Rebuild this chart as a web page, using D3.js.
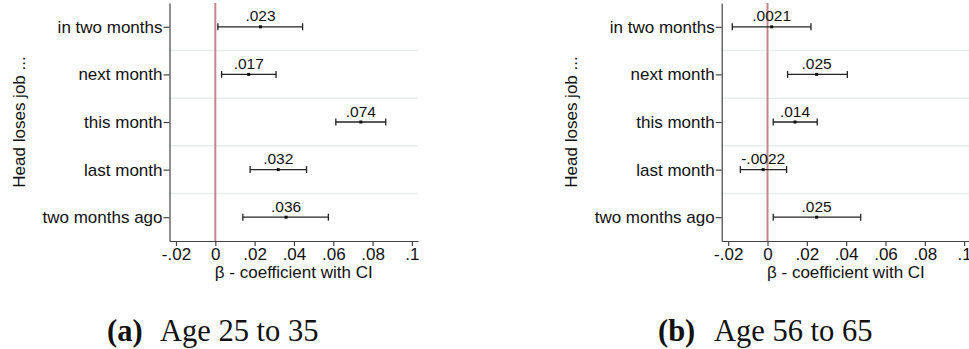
<!DOCTYPE html>
<html>
<head>
<meta charset="utf-8">
<script src="https://cdn.jsdelivr.net/npm/d3@7"></script>
<style>
  body { margin: 0; background: #fff; }
  svg { display: block; }
  .axis text { font-family: "Liberation Sans", Arial, sans-serif; font-size: 17px; fill: #111; }
  .axis path, .axis line { stroke: #444; stroke-width: 1.2; }
  .title { font-family: "Liberation Sans", Arial, sans-serif; font-size: 17px; fill: #111; }
  .val { font-family: "Liberation Sans", Arial, sans-serif; font-size: 15.5px; fill: #111; }
  .caption { font-family: "Liberation Serif", "Times New Roman", serif; font-size: 30.5px; fill: #111; }
</style>
</head>
<body>
<svg id="chart" width="969" height="349"></svg>
<script>
// Categories (top to bottom)
const categories = ["in two months", "next month", "this month", "last month", "two months ago"];
const xTicks = [-0.02, 0, 0.02, 0.04, 0.06, 0.08, 0.1];

// Panel (a): Age 25 to 35
const estA = [0.023, 0.017, 0.074, 0.032, 0.036];
const loA  = [0.0013, 0.0032, 0.0613, 0.0177, 0.0140];
const hiA  = [0.0444, 0.0309, 0.0867, 0.0464, 0.0575];

// Panel (b): Age 56 to 65
const estB = [0.0021, 0.025, 0.014, -0.0022, 0.025];
const loB  = [-0.0179, 0.0102, 0.0029, -0.0138, 0.0029];
const hiB  = [0.0221, 0.0406, 0.0253, 0.0097, 0.0474];

const panels = [
  {left: 169.5, est: estA, lo: loA, hi: hiA, tag: "(a)", label: "Age 25 to 35", capX: 107, capGap: 53},
  {left: 721.7, est: estB, lo: loB, hi: hiB, tag: "(b)", label: "Age 56 to 65", capX: 658, capGap: 56}
];

const plotW = 248.5, plotTop = 3, plotBottom = 241;

// Stata-like number format: drop the leading zero
const fmt = v => d3.format(".2r")(v).replace("−", "-").replace("0.", ".");
const tickFmt = d => d === 0 ? "0" : String(+d.toFixed(2)).replace("0.", ".");

const svg = d3.select("#chart");

panels.forEach(p => {
  const g = svg.append("g");

  const x = d3.scaleLinear()
    .domain([-0.0233, 0.1031])
    .range([p.left, p.left + plotW]);
  const y = d3.scalePoint()
    .domain(categories)
    .range([plotTop, plotBottom])
    .padding(0.5);
  const step = y.step();

  // light horizontal separators between categories
  g.selectAll(".grid")
    .data(categories.slice(1))
    .join("line")
    .attr("x1", p.left).attr("x2", p.left + plotW)
    .attr("y1", d => y(d) - step / 2).attr("y2", d => y(d) - step / 2)
    .attr("stroke", "#e6eeee").attr("stroke-width", 1.5);

  // reference line at zero
  g.append("line")
    .attr("x1", x(0)).attr("x2", x(0))
    .attr("y1", plotTop).attr("y2", plotBottom)
    .attr("stroke", "#c4858d").attr("stroke-width", 2);

  // axes
  g.append("g")
    .attr("class", "axis")
    .attr("transform", `translate(${p.left},0)`)
    .call(d3.axisLeft(y).tickSize(6).tickSizeOuter(0).tickPadding(1));

  g.append("g")
    .attr("class", "axis")
    .attr("transform", `translate(0,${plotBottom})`)
    .call(d3.axisBottom(x).tickValues(xTicks).tickFormat(tickFmt).tickSize(5).tickSizeOuter(0).tickPadding(2));

  const rows = categories.map((c, i) => ({c, est: p.est[i], lo: p.lo[i], hi: p.hi[i]}));

  // confidence intervals
  const ci = g.selectAll(".ci").data(rows).join("g");
  ci.append("line")
    .attr("x1", d => x(d.lo)).attr("x2", d => x(d.hi))
    .attr("y1", d => y(d.c)).attr("y2", d => y(d.c))
    .attr("stroke", "#222").attr("stroke-width", 1.3);
  ci.append("line")
    .attr("x1", d => x(d.lo)).attr("x2", d => x(d.lo))
    .attr("y1", d => y(d.c) - 3.5).attr("y2", d => y(d.c) + 3.5)
    .attr("stroke", "#222").attr("stroke-width", 1.3);
  ci.append("line")
    .attr("x1", d => x(d.hi)).attr("x2", d => x(d.hi))
    .attr("y1", d => y(d.c) - 3.5).attr("y2", d => y(d.c) + 3.5)
    .attr("stroke", "#222").attr("stroke-width", 1.3);
  ci.append("rect")
    .attr("x", d => x(d.est) - 1.5).attr("y", d => y(d.c) - 1.5)
    .attr("width", 3).attr("height", 3)
    .attr("fill", "#111");
  ci.append("text")
    .attr("class", "val")
    .attr("x", d => x(d.est)).attr("y", d => y(d.c) - 5.5)
    .attr("text-anchor", "middle")
    .text(d => fmt(d.est));

  // axis titles
  g.append("text")
    .attr("class", "title")
    .attr("transform", `translate(${p.left - 145},${(plotTop + plotBottom) / 2}) rotate(-90)`)
    .attr("text-anchor", "middle")
    .attr("font-size", "16.5px")
    .text("Head loses job ...");
  g.append("text")
    .attr("class", "title")
    .attr("x", p.left + plotW / 2).attr("y", 278)
    .attr("text-anchor", "middle")
    .text("β - coefficient with CI");

  // sub-figure caption
  const cap = g.append("text")
    .attr("class", "caption")
    .attr("x", p.capX).attr("y", 341);
  cap.append("tspan").attr("font-weight", "bold").text(p.tag);
  cap.append("tspan").attr("x", p.capX + p.capGap).text(p.label);
});
</script>
</body>
</html>
